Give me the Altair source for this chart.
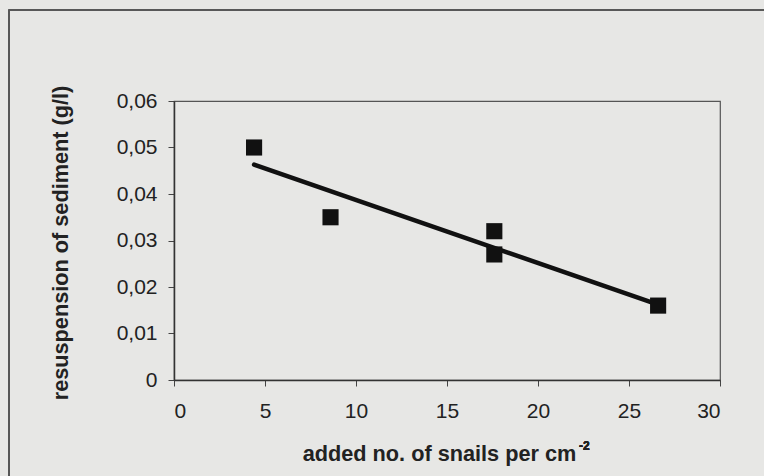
import altair as alt
import pandas as pd

snails = [4.4, 8.6, 17.6, 17.6, 26.6]
resuspension = [0.050, 0.035, 0.032, 0.027, 0.016]

df = pd.DataFrame({"snails": snails, "resuspension": resuspension})

W, H = 546, 279
FONT = "Liberation Sans"

xscale = alt.Scale(domain=[0, 30], nice=False, zero=True)
yscale = alt.Scale(domain=[0, 0.06], nice=False)

common_axis = dict(
    domainColor="#333333", domainWidth=1.5, tickColor="#444444", tickSize=6, tickWidth=1,
    labelFont=FONT, labelFontSize=21, labelColor="#222222",
    titleFont=FONT, titleFontSize=21.7, titleFontWeight="bold", titleColor="#222222",
    grid=False,
)

base = alt.Chart(df)

frame = base.mark_rect(fill="transparent", stroke="#555555", strokeWidth=1.2, clip=False).encode(
    x=alt.value(-165), x2=alt.value(620), y=alt.value(-91), y2=alt.value(400)
)

points = base.mark_square(size=260, color="#111111", opacity=1).encode(
    x=alt.X("snails:Q", scale=xscale,
            axis=alt.Axis(values=[0, 5, 10, 15, 20, 25, 30], title="added no. of snails per cm",
                          titleX=265, titleY=80, titleAlign="center", titleBaseline="alphabetic",
                          labelPadding=14, **common_axis)),
    y=alt.Y("resuspension:Q", scale=yscale,
            axis=alt.Axis(values=[0, 0.01, 0.02, 0.03, 0.04, 0.05, 0.06],
                          title="resuspension of sediment (g/l)",
                          labelExpr="datum.value == 0 ? '0' : replace(format(datum.value, '.2f'), '.', ',')",
                          titleX=-124, titleY=H / 2 + 2, titleAlign="center", titleBaseline="top",
                          labelPadding=11, **common_axis)),
)

line = base.transform_regression("snails", "resuspension").mark_line(
    color="#111111", strokeWidth=4.5, strokeCap="round"
).encode(x=alt.X("snails:Q", scale=xscale), y=alt.Y("resuspension:Q", scale=yscale))

sup = base.mark_text(text="-2", font=FONT, fontSize=12, fontWeight="bold", align="left",
                     baseline="alphabetic", color="#222222").encode(
    x=alt.value(405), y=alt.value(349)
)

chart = alt.layer(frame, line, points, sup).properties(
    width=W, height=H,
    autosize=alt.AutoSizeParams(type="none"),
    padding={"left": 174, "top": 101, "right": 44, "bottom": 96},
    background="#e7e7e5",
).configure_view(
    stroke="#555555", strokeWidth=1.2
)

chart.save("out.html", embed_options={"renderer": "svg", "actions": False})
